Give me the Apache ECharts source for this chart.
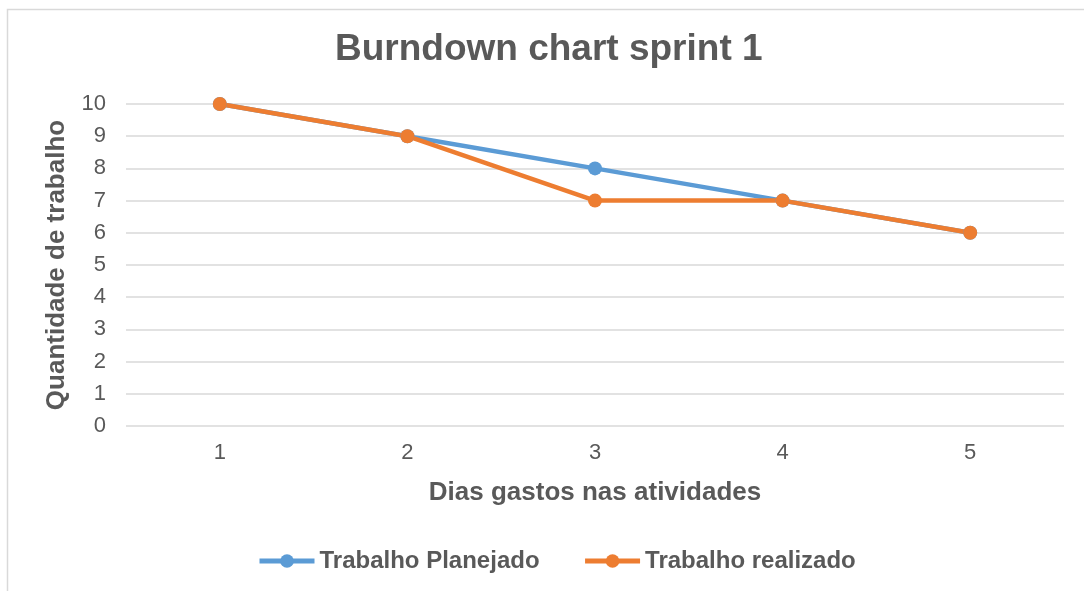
<!DOCTYPE html>
<html><head><meta charset="utf-8">
<script src="https://cdn.jsdelivr.net/npm/echarts@6/dist/echarts.min.js"></script>
<style>html,body{margin:0;padding:0;background:#fff}#c{width:1084px;height:591px}</style>
</head><body><div id="c"></div>
<script>
var categories = ['1','2','3','4','5'];
var planejado = [10, 9, 8, 7, 6];
var realizado = [10, 9, 7, 7, 6];
var seriesNames = ['Trabalho Planejado', 'Trabalho realizado'];
var titleText = 'Burndown chart sprint 1';
var xName = 'Dias gastos nas atividades';
var yName = 'Quantidade de trabalho';

var font = 'Liberation Sans, Arial, sans-serif';
var chart = echarts.init(document.getElementById('c'));
chart.setOption({
  animation: false,
  backgroundColor: '#fff',
  graphic: [{type:'rect', shape:{x:7.5,y:9.5,width:1090,height:600}, style:{fill:'none', stroke:'#D9D9D9', lineWidth:1.5}, silent:true}],
  title: {text: titleText, left: 335, top: 31, padding: 0, textStyle:{fontFamily:font, fontSize:37, fontWeight:'bold', color:'#595959'}},
  legend: {bottom: 18, left: 257, padding: 0, itemWidth: 55, itemHeight: 17, itemGap: 43,
    lineStyle:{width:5},
    textStyle:{fontFamily:font, fontSize:24, fontWeight:'bold', color:'#595959'},
    data: seriesNames},
  grid: {left: 126, right: 20, top: 104, bottom: 165},
  xAxis: {type:'category', data: categories, boundaryGap: true,
    name: xName, nameLocation:'middle', nameGap: 54,
    nameTextStyle:{fontFamily:font, fontSize:26, fontWeight:'bold', color:'#595959'},
    axisLine:{show:false}, axisTick:{show:false},
    axisLabel:{fontFamily:font, fontSize:22, color:'#595959', margin:16}},
  yAxis: {type:'value', min:0, max:10, interval:1,
    name: yName, nameLocation:'middle', nameGap: 56,
    nameTextStyle:{fontFamily:font, fontSize:26, fontWeight:'bold', color:'#595959'},
    axisLine:{show:false}, axisTick:{show:false},
    axisLabel:{fontFamily:font, fontSize:22, color:'#595959', margin:20},
    splitLine:{lineStyle:{color:'#D9D9D9', width:1.5}}},
  series: [
    {name: seriesNames[0], type:'line', data: planejado, symbol:'circle', symbolSize:14,
      lineStyle:{color:'#5B9BD5', width:4.5}, itemStyle:{color:'#5B9BD5'}},
    {name: seriesNames[1], type:'line', data: realizado, symbol:'circle', symbolSize:14,
      lineStyle:{color:'#ED7D31', width:4.5}, itemStyle:{color:'#ED7D31'}}
  ]
});
</script></body></html>
